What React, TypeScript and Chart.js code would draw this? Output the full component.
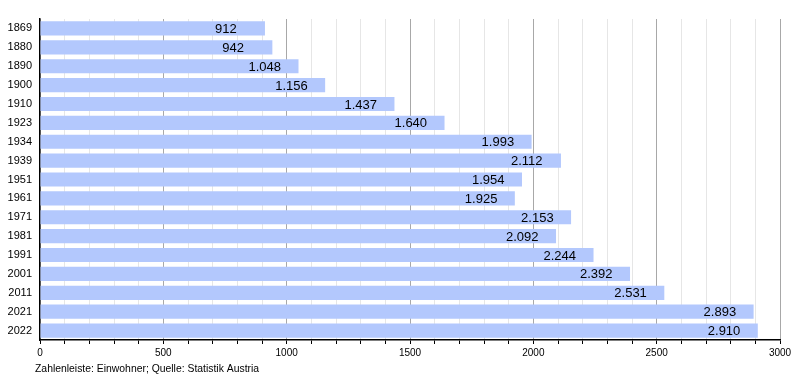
import React, { useEffect, useRef } from "react";
import { Chart, registerables } from "chart.js";

Chart.register(...registerables);

const years = ["1869","1880","1890","1900","1910","1923","1934","1939","1951","1961","1971","1981","1991","2001","2011","2021","2022"];
const population = [912, 942, 1048, 1156, 1437, 1640, 1993, 2112, 1954, 1925, 2153, 2092, 2244, 2392, 2531, 2893, 2910];
const axisMin = 0;
const axisMax = 3000;
const footerText = "Zahlenleiste: Einwohner; Quelle: Statistik Austria";

const fmt = (v: number) => v.toString().replace(/\B(?=(\d{3})+(?!\d))/g, ".");

const labelPlugin = {
  id: "barLabels",
  afterDatasetsDraw(chart: any) {
    const ctx = chart.ctx;
    const meta = chart.getDatasetMeta(0);
    ctx.save();
    ctx.font = "13px 'Liberation Sans', Arial, sans-serif";
    ctx.fillStyle = "#000";
    ctx.textAlign = "left";
    ctx.textBaseline = "middle";
    meta.data.forEach((el: any, i: number) => {
      ctx.fillText(fmt(population[i]), el.x - 50, el.y + 1);
    });
    ctx.restore();
  },
  afterDraw(chart: any) {
    const ctx = chart.ctx;
    ctx.save();
    ctx.font = "10.4px 'Liberation Sans', Arial, sans-serif";
    ctx.fillStyle = "#000";
    ctx.textAlign = "left";
    ctx.textBaseline = "middle";
    ctx.fillText(footerText, 35, 369);
    ctx.restore();
  },
};

export default function App() {
  const ref = useRef<HTMLCanvasElement>(null);
  useEffect(() => {
    if (!ref.current) return;
    const chart = new Chart(ref.current, {
      type: "bar",
      data: {
        labels: years,
        datasets: [
          {
            data: population,
            backgroundColor: "#b3c8fd",
            borderWidth: 0,
            barPercentage: 0.75,
            categoryPercentage: 1,
          },
        ],
      },
      options: {
        indexAxis: "y",
        animation: false,
        responsive: false,
        maintainAspectRatio: false,
        layout: { padding: { top: 19, right: 20, left: 0, bottom: 0 } },
        plugins: { legend: { display: false }, tooltip: { enabled: false }, title: { display: false } },
        scales: {
          x: {
            min: axisMin,
            max: axisMax,
            afterFit: (s: any) => { s.height = 40; },
            border: { display: true, color: "#000", width: 1.5 },
            grid: {
              color: (c: any) => (c.tick && c.tick.value % 500 === 0 ? "#a8a8a8" : "#e6e6e6"),
              tickColor: "#000",
              tickLength: 4,
              lineWidth: 1,
            },
            ticks: {
              stepSize: 100,
              autoSkip: false,
              maxRotation: 0,
              padding: 3,
              color: "#000",
              font: { size: 10, family: "'Liberation Sans', Arial, sans-serif" },
              callback: (v: any) => (Number(v) % 500 === 0 ? String(v) : ""),
            },
          },
          y: {
            afterFit: (s: any) => { s.width = 40; },
            border: { display: true, color: "#000", width: 1.5 },
            grid: { display: false, drawTicks: false, tickLength: 0 },
            ticks: {
              color: "#000",
              padding: 8,
              font: { size: 11, family: "'Liberation Sans', Arial, sans-serif" },
            },
          },
        },
      },
      plugins: [labelPlugin],
    });
    return () => chart.destroy();
  }, []);
  return (
    <div style={{ position: "fixed", left: 0, top: 0, width: 800, height: 380, background: "#fff" }}>
      <canvas ref={ref} width={800} height={380} style={{ width: 800, height: 380 }} />
    </div>
  );
}
